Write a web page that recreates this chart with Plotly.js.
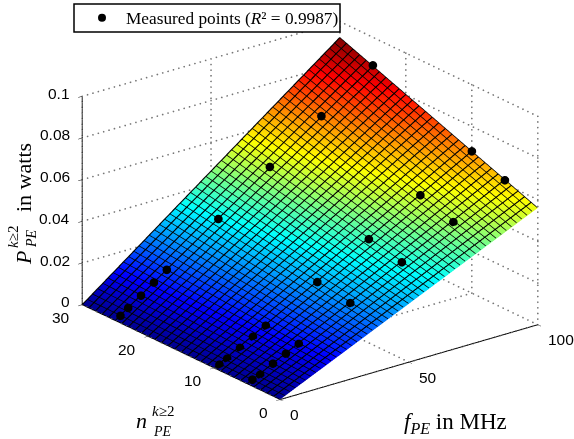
<!DOCTYPE html>
<html><head><meta charset="utf-8">
<script src="https://cdn.plot.ly/plotly-3.0.1.min.js"></script>
<style>html,body{margin:0;padding:0;background:#fff}#c{width:574px;height:439px}</style>
</head><body><div id="c"></div>
<script>
const fGrid=[0,25,50,75,100];
const nGrid=[0,10,20,30];
const zSurface=[
 [0,0.0140,0.0280,0.0420,0.0560],
 [0,0.0170,0.0340,0.0510,0.0681],
 [0,0.0200,0.0401,0.0602,0.0802],
 [0,0.0231,0.0462,0.0692,0.0923]];
const fMeasured=[100,80,60,40,20,15,10,5,2];
const nSeries=[25,10,5];
const pSeries=[
 [0.0866,0.0694,0.0522,0.0344,0.0172,0.0129,0.0084,0.0043,0.0016],
 [0.0681,0.0542,0.0403,0.0269,0.0131,0.0096,0.0061,0.0027,0.0009],
 [0.0618,0.0489,0.0368,0.0244,0.0120,0.0091,0.0061,0.0026,0.0013]];
const fTicks=[0,50,100];
const nTicks=[0,10,20,30];
const zTicks=[0,0.02,0.04,0.06,0.08,0.1];
const zTickText=['0','0.02','0.04','0.06','0.08','0.1'];
const legendName='Measured points (<i>R</i>² = 0.9987)';
const jet=[[0,'#00008f'],[0.125,'#0000ff'],[0.375,'#00ffff'],[0.625,'#ffff00'],[0.875,'#ff0000'],[1,'#800000']];

const fMax=100,nMax=30,zMax=0.1;
const aspect={x:1.551,y:0.987*1.551,z:0.688*1.551};
const eyeDir={x:-0.570,y:-0.732,z:0.373};
const r=2;
const X=[],Y=[],Z=[];
function seg(a,b,count){for(let i=0;i<=count;i++){const t=i/count;
 X.push(a[0]+(b[0]-a[0])*t);Y.push(a[1]+(b[1]-a[1])*t);Z.push(a[2]+(b[2]-a[2])*t);}}
const dotsF=48,dotsN=40,dotsZ=(h)=>Math.round(h/zMax*37);
zTicks.forEach(z=>{seg([0,nMax,z],[fMax,nMax,z],dotsF);seg([fMax,nMax,z],[fMax,0,z],dotsN);});
fTicks.forEach(f=>{seg([f,nMax,0],[f,nMax,zMax],dotsZ(zMax));seg([f,0,0],[f,nMax,0],dotsN);});
nTicks.forEach(n=>{seg([fMax,n,0],[fMax,n,zMax],dotsZ(zMax));seg([0,n,0],[fMax,n,0],dotsF);});
function offset(lift){return [lift*eyeDir.x*fMax/aspect.x,lift*eyeDir.y*nMax/aspect.y,lift*eyeDir.z*zMax/aspect.z];}
const [dF,dN,dZ]=offset(0.03);

// surface mesh: edge-to-edge lines through the surface's own table
const meshFStep=2,meshNStep=1;
const [mF,mN,mZ]=offset(0.006);
function surfZ(f,n){
 const fi=Math.min(Math.floor(f/25),fGrid.length-2),ni=Math.min(Math.floor(n/10),nGrid.length-2);
 const u=(f-fGrid[fi])/25,v=(n-nGrid[ni])/10;
 return (1-v)*((1-u)*zSurface[ni][fi]+u*zSurface[ni][fi+1])+v*((1-u)*zSurface[ni+1][fi]+u*zSurface[ni+1][fi+1]);
}
function meshLines(){
 const x=[],y=[],z=[];
 for(let n=0;n<=nMax;n+=meshNStep){[0,fMax].forEach(f=>{x.push(f+mF);y.push(n+mN);z.push(surfZ(f,n)+mZ);});x.push(null);y.push(null);z.push(null);}
 return {x,y,z};
}
function meshLinesF(){
 const x=[],y=[],z=[];
 for(let f=0;f<=fMax;f+=meshFStep){nGrid.forEach(n=>{x.push(f+mF);y.push(n+mN);z.push(surfZ(f,n)+mZ);});x.push(null);y.push(null);z.push(null);}
 return {x,y,z};
}

const traces=[
 {type:'scatter3d',mode:'markers',x:X,y:Y,z:Z,showlegend:false,hoverinfo:'skip',
  marker:{color:'#777',size:1,line:{width:0}}},
 {type:'surface',x:fGrid,y:nGrid,z:zSurface,colorscale:jet,cmin:0,cmax:0.0923,showscale:false,
  lighting:{ambient:1,diffuse:0,specular:0,roughness:1,fresnel:0},
  contours:{x:{highlight:false},y:{highlight:false},z:{highlight:false}},hoverinfo:'skip'},
 {type:'scatter3d',mode:'lines',...meshLines(),connectgaps:false,showlegend:false,hoverinfo:'skip',line:{color:'#000',width:2.2}},
 {type:'scatter3d',mode:'lines',...meshLinesF(),connectgaps:false,showlegend:false,hoverinfo:'skip',line:{color:'#000',width:1.5}},
 {type:'scatter3d',mode:'markers',name:legendName,showlegend:false,
  x:nSeries.flatMap(()=>fMeasured.map(f=>f+dF)),y:nSeries.flatMap(n=>fMeasured.map(()=>n+dN)),z:pSeries.flat().map(p=>p+dZ),
  marker:{color:'#000',size:5,line:{width:0}}},
 {type:'scatter3d',mode:'markers',name:legendName,showlegend:true,x:[null],y:[null],z:[null],
  marker:{color:'#000',size:8,line:{width:0}}}
];
function ax(vals,range){return {range:range,autorange:false,tickmode:'array',tickvals:vals,showticklabels:false,
 title:{text:''},showgrid:false,zeroline:false,showline:true,linecolor:'#000',linewidth:2,
 ticks:'outside',ticklen:5,tickcolor:'#000',tickwidth:1,showbackground:false,showspikes:false};}
const tickFont={family:'Liberation Sans, Arial, sans-serif',size:15.5,color:'#000'};
const serif='Liberation Serif, serif';
const sceneAnn=[
 ...fTicks.map(f=>({x:f,y:0,z:0,text:String(f),showarrow:false,xanchor:'left',yanchor:'middle',xshift:8,yshift:-15,font:tickFont})),
 ...nTicks.map(n=>({x:0,y:n,z:0,text:String(n),showarrow:false,xanchor:'right',yanchor:'middle',xshift:-10,yshift:-13,font:tickFont})),
 ...zTicks.map((z,i)=>({x:0,y:nMax,z:z,text:zTickText[i],showarrow:false,xanchor:'right',yanchor:'middle',xshift:-10,yshift:3,font:tickFont}))
];
function px(x,y,text,size,angle){return {xref:'paper',yref:'paper',x:x/574,y:1-y/439,xanchor:'center',yanchor:'middle',showarrow:false,text:text,textangle:angle||0,font:{family:serif,size:size,color:'#000'}};}
const layout={width:574,height:439,margin:{l:0,r:0,t:0,b:0},paper_bgcolor:'#fff',
 showlegend:true,
 legend:{x:78/574,y:1-18/439,xanchor:'left',yanchor:'middle',bgcolor:'rgba(0,0,0,0)',borderwidth:0,
   itemwidth:38,font:{family:serif,size:17.3,color:'#000'}},
 shapes:[{type:'rect',xref:'paper',yref:'paper',x0:74/574,x1:340/574,y0:1-4/439,y1:1-32/439,
   line:{color:'#000',width:1.5},fillcolor:'#fff',layer:'above'}],
 scene:{domain:{x:[0.08,1],y:[0.041,1]},
  aspectmode:'manual',aspectratio:aspect,
  camera:{projection:{type:'orthographic'},up:{x:0,y:0,z:1},center:{x:0,y:0,z:0},
    eye:{x:eyeDir.x*r,y:eyeDir.y*r,z:eyeDir.z*r}},
  xaxis:ax(fTicks,[0,fMax]),yaxis:ax(nTicks,[0,nMax]),zaxis:ax(zTicks,[0,zMax]),
  annotations:sceneAnn},
 annotations:[
  px(455,423,'<i>f</i><sub><i>PE</i></sub> in MHz',23),
  px(141,420,'<i>n</i>',22),
  px(163,411,'<i>k</i>≥2',15),
  px(162,431,'<i>PE</i>',14),
  px(23,258,'<i>P</i>',22,-90),
  px(13,237,'<i>k</i>≥2',15,-90),
  px(31,239,'<i>PE</i>',14,-90),
  px(23,178,'in watts',22,-90)
 ]};
Plotly.newPlot('c',traces,layout,{displayModeBar:false});
</script></body></html>
